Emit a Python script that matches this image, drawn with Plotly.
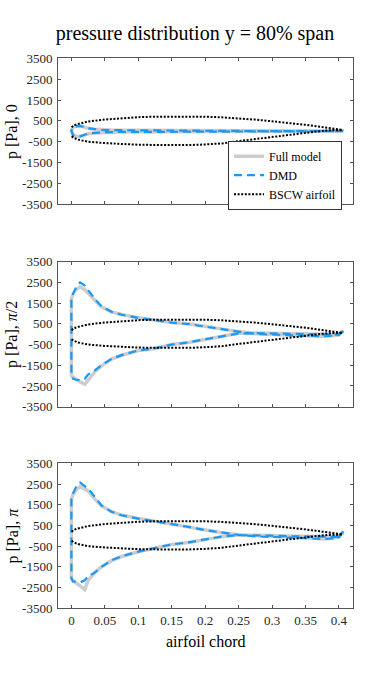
import plotly.graph_objects as go

# chordwise stations for the pressure curves [m]
X_P = [0, 0.0025, 0.007, 0.013, 0.02, 0.025, 0.035, 0.045, 0.06, 0.075, 0.1, 0.125,
       0.15, 0.175, 0.2, 0.225, 0.25, 0.275, 0.3, 0.325, 0.35, 0.375, 0.39, 0.4, 0.4064]

# phase 0
FULL_0_UPPER = [20, 190, 245, 260, 190, 150, 100, 75, 60, 50, 40, 35, 30, 25, 20, 20, 15, 15,
                10, 10, 10, 10, 10, 10, 10]
FULL_0_LOWER = [20, -180, -235, -245, -170, -120, -80, -55, -40, -35, -25, -22, -20, -18, -15,
                -15, -12, -10, -5, -5, 0, 0, 5, 5, 10]
DMD_0_UPPER = [20, 195, 240, 255, 185, 145, 95, 70, 55, 45, 38, 32, 28, 22, 18, 16, 14, 12,
               10, 10, 8, 8, 8, 8, 10]
DMD_0_LOWER = [20, -185, -240, -245, -165, -115, -75, -50, -38, -32, -24, -20, -18, -16, -14,
               -12, -10, -8, -5, -4, -2, 0, 2, 5, 10]

# phase pi/2
FULL_1_UPPER = [1700, 1950, 2150, 2290, 2150, 1970, 1645, 1320, 1080, 950, 790, 677, 560, 500,
                400, 250, 125, 20, -20, -50, -70, -100, -70, -30, 180]
FULL_1_LOWER = [-2000, -2065, -2180, -2300, -2420, -2226, -1823, -1530, -1200, -1016, -790, -690,
                -500, -400, -250, -90, 40, 60, 40, 20, 0, -30, -40, -20, 180]
DMD_1_UPPER = [1700, 1950, 2250, 2500, 2350, 2130, 1700, 1340, 1080, 940, 790, 670, 560, 490,
               390, 240, 120, 20, -25, -55, -80, -100, -75, -40, 170]
DMD_1_LOWER = [-2000, -2150, -2200, -2220, -2150, -1950, -1750, -1500, -1190, -1010, -785, -680,
               -500, -395, -245, -90, 35, 55, 35, 15, -5, -35, -45, -25, 170]

# phase pi
FULL_2_UPPER = [1750, 2000, 2200, 2380, 2270, 2170, 1770, 1450, 1160, 1000, 840, 710, 560, 440,
                280, 150, 50, -20, -50, -70, -100, -150, -120, -60, 220]
FULL_2_LOWER = [-2050, -2170, -2300, -2420, -2600, -2150, -1770, -1500, -1200, -1000, -770, -610,
                -420, -320, -170, -40, 40, 40, 10, -15, -40, -45, -45, -30, 220]
DMD_2_UPPER = [1750, 2050, 2350, 2570, 2400, 2280, 1850, 1470, 1160, 990, 830, 700, 555, 430,
               275, 145, 45, -25, -55, -80, -110, -160, -130, -70, 210]
DMD_2_LOWER = [-2050, -2200, -2230, -2250, -2150, -1950, -1780, -1500, -1190, -990, -765, -605,
               -415, -315, -165, -40, 35, 35, 5, -20, -45, -50, -50, -35, 210]

# BSCW airfoil outline, scaled to the pressure axis
AIRFOIL_X = [0.0005, 0.003, 0.01, 0.025, 0.05, 0.075, 0.1, 0.125, 0.15, 0.175, 0.2, 0.225,
             0.25, 0.275, 0.3, 0.325, 0.35, 0.375, 0.39, 0.4064]
AIRFOIL_UPPER = [190, 280, 355, 470, 565, 630, 677, 700, 710, 710, 700, 670, 620, 560, 480,
                 400, 310, 200, 130, 60]
AIRFOIL_LOWER = [-240, -310, -400, -500, -565, -613, -645, -655, -660, -660, -630, -580, -470,
                 -370, -250, -150, -60, 20, 50, 60]

Y_TITLES = ['p [Pa], 0', 'p [Pa], <i>π</i>/2', 'p [Pa], <i>π</i>']
X_TICKS = [0, 0.05, 0.1, 0.15, 0.2, 0.25, 0.3, 0.35, 0.4]
X_TICKTEXT = ['0', '0.05', '0.1', '0.15', '0.2', '0.25', '0.3', '0.35', '0.4']
Y_TICKS = [-3500, -2500, -1500, -500, 500, 1500, 2500, 3500]

FONT = 'Liberation Serif'
W, H = 390, 683
LEFT, RIGHT = 58.3, 353.3
PANELS = [(58.3, 204.3), (261.7, 406.7), (463.3, 608.3)]  # px of each axes box


def loop(upper, lower):
    # closed curve: upper surface TE -> LE, then lower surface LE -> TE
    return X_P[::-1] + X_P, upper[::-1] + lower


def px_x(x):
    return (x - LEFT) / (RIGHT - LEFT)


def px_y(y):
    return 1 - y / H


fig = go.Figure()
curves = [
    (FULL_0_UPPER, FULL_0_LOWER, DMD_0_UPPER, DMD_0_LOWER),
    (FULL_1_UPPER, FULL_1_LOWER, DMD_1_UPPER, DMD_1_LOWER),
    (FULL_2_UPPER, FULL_2_LOWER, DMD_2_UPPER, DMD_2_LOWER),
]
for i, (fu, fl, du, dl) in enumerate(curves):
    ax = '' if i == 0 else str(i + 1)
    xf, yf = loop(fu, fl)
    xd, yd = loop(du, dl)
    fig.add_trace(go.Scatter(
        x=xf, y=yf, mode='lines', name='Full model', showlegend=(i == 0),
        line=dict(color='#cdcdcd', width=3.5),
        xaxis='x' + ax, yaxis='y' + ax))
    fig.add_trace(go.Scatter(
        x=xd, y=yd, mode='lines', name='DMD', showlegend=(i == 0),
        line=dict(color='#1a98f5', width=2.2, dash='8px,5px'),
        xaxis='x' + ax, yaxis='y' + ax))
    fig.add_trace(go.Scatter(
        x=AIRFOIL_X + [None] + AIRFOIL_X, y=AIRFOIL_UPPER + [None] + AIRFOIL_LOWER,
        mode='lines', name='BSCW airfoil', showlegend=(i == 0),
        line=dict(color='black', width=2, dash='2px,1.6px'),
        xaxis='x' + ax, yaxis='y' + ax))

axis_style = dict(
    showline=True, linecolor='#555555', linewidth=1, mirror='ticks',
    ticks='inside', ticklen=3, tickcolor='#555555', showgrid=False, zeroline=False,
    automargin=False,
    tickfont=dict(family=FONT, size=13, color='#262626'),
)
layout = dict(
    width=W, height=H, plot_bgcolor='white', paper_bgcolor='white',
    margin=dict(l=LEFT, r=W - RIGHT, t=0, b=0, autoexpand=False),
    font=dict(family=FONT, color='#262626'),
    title=dict(text='pressure distribution y = 80% span', x=195 / W, xref='container',
               xanchor='center', y=px_y(33), yref='container', yanchor='middle',
               font=dict(family=FONT, size=20, color='black')),
    legend=dict(x=px_x(342.3), y=px_y(140.7), xanchor='right', yanchor='top',
                bgcolor='white', bordercolor='#333333', borderwidth=1,
                font=dict(family=FONT, size=12, color='black'),
                tracegroupgap=0),
    showlegend=True,
)
annotations = []
for i, (top, bottom) in enumerate(PANELS):
    ax = '' if i == 0 else str(i + 1)
    layout['xaxis' + ax] = dict(
        axis_style, domain=[0, 1], range=[-0.02, 0.421], anchor='y' + ax,
        tickvals=X_TICKS, ticktext=X_TICKTEXT, showticklabels=(i == 2),
        ticklabelstandoff=0)
    layout['yaxis' + ax] = dict(
        axis_style, domain=[px_y(bottom), px_y(top)], range=[-3500, 3500],
        anchor='x' + ax, tickvals=Y_TICKS, ticktext=[str(v) for v in Y_TICKS],
        ticklabelstandoff=2)
    annotations.append(dict(
        text=Y_TITLES[i], textangle=-90, xref='paper', yref='paper',
        x=px_x(13), y=px_y((top + bottom) / 2),
        xanchor='center', yanchor='middle', showarrow=False,
        font=dict(family=FONT, size=16, color='black')))
annotations.append(dict(
    text='airfoil chord', xref='paper', yref='paper',
    x=px_x(206), y=px_y(641), xanchor='center', yanchor='middle',
    showarrow=False, font=dict(family=FONT, size=16, color='black')))
layout['annotations'] = annotations
fig.update_layout(layout)

# drop the default 8px page margin so the figure sits at the window's corner
fig.write_html('out.html', config={'displayModeBar': False},
               post_script="document.body.style.margin = '0';")
